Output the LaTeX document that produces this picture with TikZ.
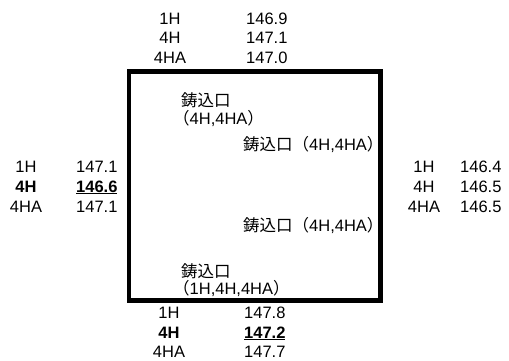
\documentclass[tikz,border=0pt]{standalone}
\usepackage{fontspec}
\setmainfont{Liberation Sans}
\newfontfamily\cjk{Noto Sans CJK JP}
\begin{document}
\begin{tikzpicture}[x=1pt,y=-1pt,
  lbl/.style={inner sep=0pt,anchor=base,font=\fontsize{16.5}{19}\selectfont},
  val/.style={inner sep=0pt,anchor=base west,font=\fontsize{16.5}{19}\selectfont},
  gate/.style={inner sep=0pt,anchor=base west,font=\fontsize{16.5}{19}\selectfont},
  frame/.style={draw=black,line width=4.5pt}]
\useasboundingbox (0,0) rectangle (509,360);
\draw[frame] (129,71.5) rectangle (380.5,300.5);
% top
\node[lbl] (t1) at (170,24) {1H};
\node[val] (t1v) at (246,24) {146.9};
\node[lbl] (t2) at (170,43.5) {4H};
\node[val] (t2v) at (246,43.5) {147.1};
\node[lbl] (t3) at (170,63) {4HA};
\node[val] (t3v) at (246,63) {147.0};
% left
\node[lbl] (l1) at (26,172) {1H};
\node[val] (l1v) at (76,172) {147.1};
\node[lbl] (l2) at (26,192) {\textbf{4H}};
\node[val] (l2v) at (76,192) {\underline{\textbf{146.6}}};
\node[lbl] (l3) at (26,212) {4HA};
\node[val] (l3v) at (76,212) {147.1};
% right
\node[lbl] (r1) at (424,172) {1H};
\node[val] (r1v) at (460,172) {146.4};
\node[lbl] (r2) at (424,192) {4H};
\node[val] (r2v) at (460,192) {146.5};
\node[lbl] (r3) at (424,212) {4HA};
\node[val] (r3v) at (460,212) {146.5};
% bottom
\node[lbl] (b1) at (169,318) {1H};
\node[val] (b1v) at (244,318) {147.8};
\node[lbl] (b2) at (169,338) {\textbf{4H}};
\node[val] (b2v) at (244,338) {\underline{\textbf{147.2}}};
\node[lbl] (b3) at (169,357.5) {4HA};
\node[val] (b3v) at (244,357.5) {147.7};
% inner
\node[gate] (g1) at (181,106) {{\cjk 鋳込口}};
\node[gate] (g1b) at (173,124.5) {{\cjk （}4H,4HA{\cjk ）}};
\node[gate] (g2) at (243,150) {{\cjk 鋳込口（}4H,4HA{\cjk ）}};
\node[gate] (g3) at (243,231) {{\cjk 鋳込口（}4H,4HA{\cjk ）}};
\node[gate] (g4) at (181,277) {{\cjk 鋳込口}};
\node[gate] (g4b) at (173,294.3) {{\cjk （}1H,4H,4HA{\cjk ）}};
\end{tikzpicture}
\end{document}
